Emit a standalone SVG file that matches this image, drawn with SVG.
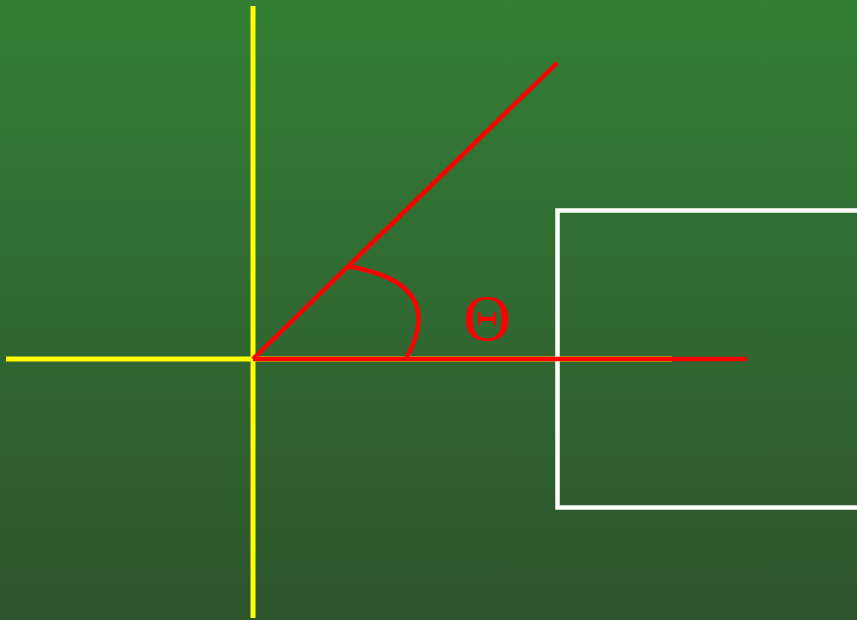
<svg xmlns="http://www.w3.org/2000/svg" width="857" height="620" viewBox="0 0 857 620">
  <defs>
    <linearGradient id="bg" x1="0" y1="0" x2="0" y2="1">
      <stop offset="0" stop-color="#337f35"/>
      <stop offset="1" stop-color="#2d532d"/>
    </linearGradient>
  </defs>
  <style>
    .axis { stroke: #ffff00; stroke-width: 5; fill: none; }
    .ray { stroke: #ff0000; stroke-width: 4.5; fill: none; }
    .box { stroke: #ffffff; stroke-width: 4.5; fill: none; }
    .lbl { font-family: "Liberation Serif", "DejaVu Serif", serif; font-size: 66px; fill: #ff0000; }
  </style>
  <rect x="0" y="0" width="857" height="620" fill="url(#bg)"/>
  <g id="axes">
    <line class="axis" x1="253" y1="6" x2="253" y2="618"/>
    <line class="axis" x1="6" y1="359" x2="672" y2="359"/>
  </g>
  <g id="box">
    <rect class="box" x="557.5" y="210.5" width="320" height="297"/>
  </g>
  <g id="angle">
    <line class="ray" x1="253" y1="359" x2="747" y2="359"/>
    <line class="ray" x1="253" y1="359" x2="557" y2="63"/>
    <path class="ray" d="M 347 266 C 400 275 440 298 406 359"/>
    <text class="lbl" x="487" y="340" text-anchor="middle">Θ</text>
  </g>
</svg>
